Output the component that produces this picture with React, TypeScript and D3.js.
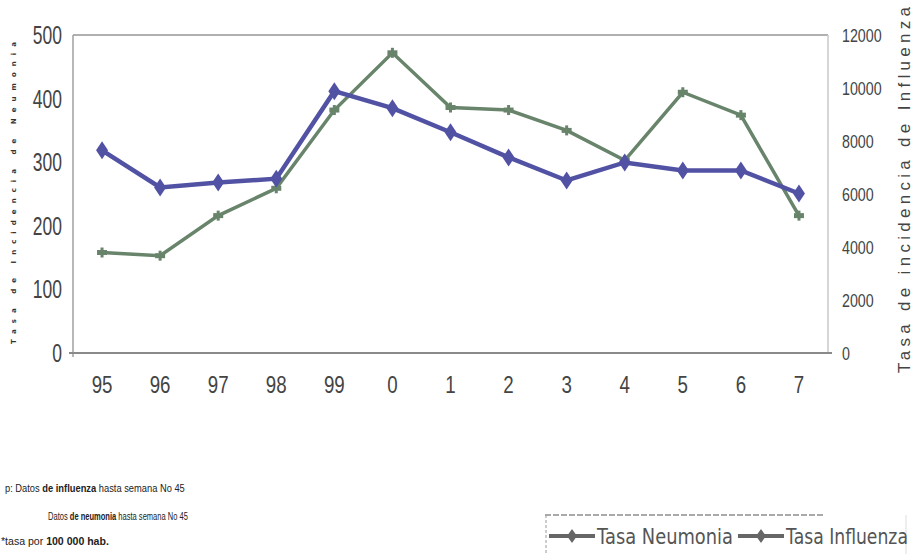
import React, { useEffect, useRef } from 'react';
import * as d3 from 'd3';

const years = ['95', '96', '97', '98', '99', '0', '1', '2', '3', '4', '5', '6', '7'];
const neumonia = [158, 153, 216, 259, 382, 472, 386, 382, 350, 303, 410, 374, 216];
const influenza = [7650, 6250, 6430, 6580, 9880, 9240, 8330, 7380, 6510, 7190, 6890, 6890, 6020];
const leftTicks = [0, 100, 200, 300, 400, 500];
const rightTicks = [0, 2000, 4000, 6000, 8000, 10000, 12000];

const GREEN = '#68846b';
const BLUE = '#5252a4';
const SANS = '"Liberation Sans", Arial, sans-serif';

const App = () => {
  const ref = useRef<SVGSVGElement | null>(null);

  useEffect(() => {
    document.body.style.margin = '0';
    const svg = d3.select(ref.current);
    svg.selectAll('*').remove();

    const left = 73, right = 828, top = 35, bottom = 353;

    const x = d3.scalePoint().domain(years).range([left, right]).padding(0.5);
    const yL = d3.scaleLinear().domain([0, 500]).range([bottom, top]);
    const yR = d3.scaleLinear().domain([0, 12000]).range([bottom, top]);

    // narrow text: regular font squeezed horizontally
    const narrow = (g: any, px: number, py: number, txt: string, size: number, sx: number, anchor = 'start') =>
      g.append('text')
        .attr('transform', `translate(${px},${py}) scale(${sx},1)`)
        .attr('text-anchor', anchor)
        .style('font-family', SANS).style('font-size', `${size}px`).attr('fill', '#444')
        .text(txt);

    // squeeze an already built text to a given width
    const fit = (t: any, px: number, py: number, width: number) => {
      const w = (t.node() as SVGTextElement).getComputedTextLength() || width;
      t.attr('transform', `translate(${px},${py}) scale(${width / w},1)`);
    };

    // plot frame
    svg.append('line').attr('x1', left).attr('x2', right).attr('y1', top).attr('y2', top)
      .attr('stroke', '#b0b0b0').attr('stroke-width', 2);
    svg.append('line').attr('x1', left).attr('x2', left).attr('y1', top).attr('y2', bottom + 4)
      .attr('stroke', '#a0a0a0').attr('stroke-width', 1.5);
    svg.append('line').attr('x1', right).attr('x2', right).attr('y1', top).attr('y2', bottom)
      .attr('stroke', '#c8c8c8').attr('stroke-width', 1.5);
    svg.append('line').attr('x1', left - 4).attr('x2', right + 4).attr('y1', bottom).attr('y2', bottom)
      .attr('stroke', '#8a8a8a').attr('stroke-width', 2);

    // axes tick labels
    const gl = svg.append('g');
    leftTicks.forEach(d => narrow(gl, 62, yL(d) + 9, String(d), 25, 0.7, 'end'));
    const gr = svg.append('g');
    rightTicks.forEach(d => narrow(gr, 842, yR(d) + 7, String(d), 19, 0.75));
    const gx = svg.append('g');
    years.forEach(d => narrow(gx, x(d) as number, 393, d, 24, 0.78, 'middle'));

    // axis titles
    svg.append('text')
      .attr('transform', 'translate(16, 193) rotate(-90)')
      .attr('text-anchor', 'middle')
      .attr('textLength', 302).attr('lengthAdjust', 'spacing')
      .style('font-family', 'DejaVu Sans, sans-serif').style('font-size', '7px')
      .style('font-weight', 'bold').attr('fill', '#333')
      .text('Tasa de Incidencia de Neumonia');

    svg.append('text')
      .attr('transform', 'translate(910, 190) rotate(-90)')
      .attr('text-anchor', 'middle')
      .attr('textLength', 366).attr('lengthAdjust', 'spacing')
      .style('font-family', SANS).style('font-size', '17px').attr('fill', '#444')
      .text('Tasa de incidencia de Influenza');

    // series
    const lineN = d3.line<number>().x((_, i) => x(years[i]) as number).y(d => yL(d));
    const lineI = d3.line<number>().x((_, i) => x(years[i]) as number).y(d => yR(d));

    svg.append('path').datum(neumonia).attr('d', lineN)
      .attr('fill', 'none').attr('stroke', GREEN).attr('stroke-width', 3.5);
    svg.append('g').selectAll('rect').data(neumonia).join('rect')
      .attr('x', (_, i) => (x(years[i]) as number) - 5).attr('y', d => yL(d) - 2.5)
      .attr('width', 10).attr('height', 5).attr('fill', GREEN);
    svg.append('g').selectAll('rect').data(neumonia).join('rect')
      .attr('x', (_, i) => (x(years[i]) as number) - 1.5).attr('y', d => yL(d) - 5)
      .attr('width', 3).attr('height', 10).attr('fill', GREEN);

    svg.append('path').datum(influenza).attr('d', lineI)
      .attr('fill', 'none').attr('stroke', BLUE).attr('stroke-width', 4.5);
    const diamond = (cx: number, cy: number, h = 9, w = 6) =>
      `M${cx},${cy - h}L${cx + w},${cy}L${cx},${cy + h}L${cx - w},${cy}Z`;
    svg.append('g').selectAll('path').data(influenza).join('path')
      .attr('d', (d, i) => diamond(x(years[i]) as number, yR(d)))
      .attr('fill', BLUE);

    // notes
    const notes = svg.append('g').style('font-family', SANS).style('font-size', '11px').attr('fill', '#222');
    const n1 = notes.append('text');
    n1.append('tspan').text('p: Datos ');
    n1.append('tspan').style('font-weight', 'bold').text('de influenza');
    n1.append('tspan').text(' hasta semana No 45');
    fit(n1, 5, 492, 180);
    const n2 = notes.append('text');
    n2.append('tspan').text('Datos ');
    n2.append('tspan').style('font-weight', 'bold').text('de neumonia');
    n2.append('tspan').text(' hasta semana No 45');
    fit(n2, 48, 520, 140);
    const n3 = notes.append('text');
    n3.append('tspan').text('*tasa por ');
    n3.append('tspan').style('font-weight', 'bold').text('100 000 hab.');
    fit(n3, 1, 545, 108);

    // legend
    const lg = svg.append('g');
    lg.append('line').attr('x1', 545).attr('x2', 823).attr('y1', 515).attr('y2', 515)
      .attr('stroke', '#555').attr('stroke-width', 1).attr('stroke-dasharray', '6,2');
    lg.append('line').attr('x1', 546).attr('x2', 546).attr('y1', 515).attr('y2', 554)
      .attr('stroke', '#999').attr('stroke-width', 1).attr('stroke-dasharray', '3,2');
    lg.append('line').attr('x1', 906).attr('x2', 906).attr('y1', 515).attr('y2', 554)
      .attr('stroke', '#ddd').attr('stroke-width', 1);
    const items = [
      { label: 'Tasa Neumonia', x0: 549, len: 136 },
      { label: 'Tasa Influenza', x0: 738, len: 122 },
    ];
    items.forEach(it => {
      lg.append('line').attr('x1', it.x0).attr('x2', it.x0 + 46).attr('y1', 536).attr('y2', 536)
        .attr('stroke', '#666').attr('stroke-width', 4);
      lg.append('path').attr('d', diamond(it.x0 + 23, 536, 7, 5)).attr('fill', '#666');
      const t = lg.append('text')
        .style('font-family', '"DejaVu Sans", sans-serif')
        .style('font-size', '21px').attr('fill', '#555')
        .text(it.label);
      fit(t, it.x0 + 48, 544, it.len);
    });
  }, []);

  return <svg ref={ref} width={920} height={554} style={{ display: 'block', background: '#fff' }} />;
};

export default App;
